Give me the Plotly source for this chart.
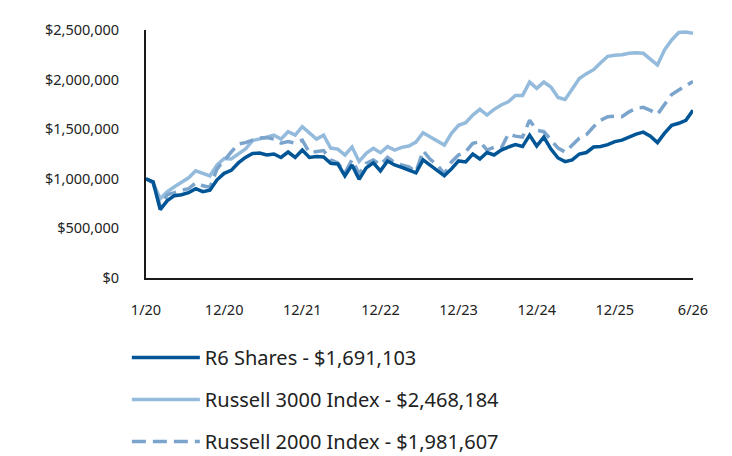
import plotly.graph_objects as go

# monthly values, 1/20 .. 6/26 (growth of $1,000,000)
r6_shares = [
    1000000, 970000, 690000, 780000, 830000, 840000, 860000, 900000, 870000, 885000,
    990000, 1055000, 1085000, 1160000, 1215000, 1255000, 1260000, 1240000, 1250000, 1215000,
    1270000, 1215000, 1290000, 1215000, 1225000, 1220000, 1155000, 1150000, 1030000, 1140000,
    995000, 1110000, 1160000, 1080000, 1180000, 1140000, 1115000, 1090000, 1060000, 1190000,
    1140000, 1080000, 1030000, 1100000, 1180000, 1170000, 1250000, 1200000, 1265000, 1240000,
    1290000, 1320000, 1345000, 1325000, 1440000, 1330000, 1420000, 1300000, 1210000, 1173000,
    1190000, 1250000, 1265000, 1320000, 1325000, 1345000, 1375000, 1390000, 1420000, 1450000,
    1470000, 1430000, 1365000, 1460000, 1540000, 1560000, 1590000, 1691103,
]
russell_3000 = [
    1000000, 960000, 800000, 870000, 920000, 965000, 1010000, 1080000, 1055000, 1030000,
    1140000, 1205000, 1200000, 1250000, 1300000, 1385000, 1400000, 1420000, 1440000, 1400000,
    1475000, 1440000, 1525000, 1460000, 1400000, 1440000, 1310000, 1300000, 1240000, 1320000,
    1175000, 1257000, 1307000, 1263000, 1324000, 1290000, 1317000, 1330000, 1370000, 1465000,
    1424000, 1374000, 1340000, 1459000, 1540000, 1566000, 1643000, 1700000, 1643000, 1700000,
    1744000, 1777000, 1840000, 1840000, 1975000, 1912000, 1975000, 1925000, 1820000, 1800000,
    1910000, 2010000, 2060000, 2100000, 2170000, 2235000, 2245000, 2250000, 2265000, 2270000,
    2265000, 2200000, 2147000, 2300000, 2400000, 2475000, 2480000, 2468184,
]
russell_2000 = [
    1000000, 960000, 720000, 840000, 860000, 885000, 900000, 960000, 930000, 915000,
    1100000, 1190000, 1270000, 1350000, 1365000, 1390000, 1410000, 1415000, 1400000, 1360000,
    1375000, 1360000, 1390000, 1265000, 1275000, 1285000, 1190000, 1160000, 1060000, 1190000,
    1050000, 1155000, 1190000, 1140000, 1216000, 1163000, 1140000, 1120000, 1070000, 1283000,
    1196000, 1140000, 1050000, 1170000, 1240000, 1273000, 1357000, 1374000, 1290000, 1317000,
    1307000, 1452000, 1430000, 1420000, 1590000, 1490000, 1475000, 1390000, 1310000, 1270000,
    1340000, 1410000, 1445000, 1525000, 1590000, 1625000, 1630000, 1625000, 1675000, 1710000,
    1720000, 1690000, 1650000, 1750000, 1850000, 1895000, 1940000, 1981607,
]
tick_labels = ["1/20", "12/20", "12/21", "12/22", "12/23", "12/24", "12/25", "6/26"]
tick_pos = [0, 11, 22, 33, 44, 55, 66, 77]

x = list(range(len(r6_shares)))
font = "Noto Sans, Open Sans, sans-serif"

fig = go.Figure()
fig.add_scatter(x=x, y=russell_3000, mode="lines", name="Russell 3000 Index - $2,468,184",
                line=dict(color="#94bbdc", width=3.5), legendrank=2, legendgroup="b")
fig.add_scatter(x=x, y=russell_2000, mode="lines", name="Russell 2000 Index - $1,981,607",
                line=dict(color="#7ba4cd", width=3.5, dash="14px,7px"), legendrank=3, legendgroup="c")
fig.add_scatter(x=x, y=r6_shares, mode="lines", name="R6 Shares - $1,691,103",
                line=dict(color="#005596", width=3.5), legendrank=1, legendgroup="a")

fig.update_xaxes(range=[0, 77], tickvals=tick_pos, ticktext=tick_labels, automargin=False,
                 showgrid=False, zeroline=False, showline=True, linecolor="#1a1a1a", linewidth=2,
                 ticks="outside", ticklen=18, tickcolor="rgba(0,0,0,0)",
                 tickfont=dict(size=14.5, color="#222222"))
fig.update_yaxes(range=[0, 2500000], dtick=500000, tickprefix="$", tickformat=",", automargin=False,
                 showgrid=False, zeroline=False, showline=True, linecolor="#1a1a1a", linewidth=2,
                 ticks="outside", ticklen=22, tickcolor="rgba(0,0,0,0)",
                 tickfont=dict(size=14.5, color="#222222"))

# page body adds an 8px offset, so margins are shifted by that amount
fig.update_layout(
    width=732, height=456,
    margin=dict(l=138, r=47, t=22, b=186, autoexpand=False),
    plot_bgcolor="white", paper_bgcolor="white",
    font=dict(family=font, color="#222222"),
    legend=dict(x=-0.035, xanchor="left", y=-0.242, yanchor="top",
                orientation="v", itemwidth=68, tracegroupgap=13,
                font=dict(size=20, color="#222222")),
)

fig.write_html("out.html")
